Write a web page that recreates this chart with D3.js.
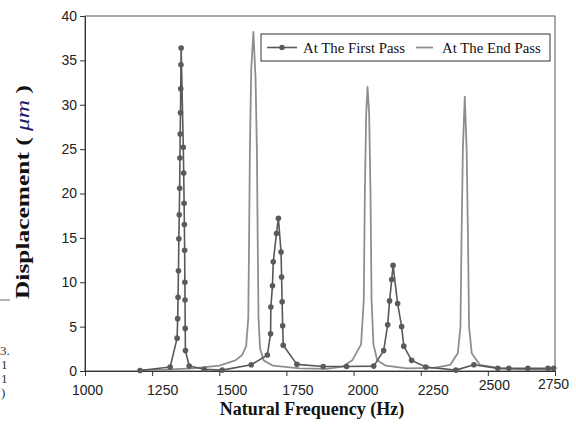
<!DOCTYPE html>
<html>
<head>
<meta charset="utf-8">
<script src="https://cdn.jsdelivr.net/npm/d3@7"></script>
<style>
  html, body { margin: 0; padding: 0; background: #fff; }
  svg { display: block; }
</style>
</head>
<body>
<svg id="chart" width="576" height="427"></svg>
<script>
// ---- data ----
const xTicks = [1000, 1250, 1500, 1750, 2000, 2250, 2500, 2750];
const yTicks = [0, 5, 10, 15, 20, 25, 30, 35, 40];
const seriesNames = ["At The First Pass", "At The End Pass"];

const firstPassFreq = [1205, 1317, 1343, 1345, 1346.5, 1348, 1349.5, 1351, 1352.5, 1353.5, 1354.5, 1355.5, 1356.5, 1357.3, 1358,
  1366, 1367.5, 1369, 1370, 1371, 1371.8, 1372.5, 1373.2, 1374, 1388, 1444, 1511,
  1619, 1679, 1691, 1692, 1698, 1701, 1713, 1720, 1730, 1732, 1734, 1736, 1738, 1789, 1887, 1974,
  2075, 2112, 2127, 2134, 2142, 2147, 2164, 2179, 2187, 2216, 2269, 2381, 2448, 2537, 2578, 2649, 2724, 2745];
const firstPassDisp = [0.05, 0.45, 3.7, 5.9, 8.3, 11.3, 14.9, 17.6, 20.6, 24.0, 26.7, 29.1, 31.8, 34.5, 36.4,
  25.2, 22.3, 18.9, 16.5, 13.6, 10.0, 8.0, 4.8, 2.3, 0.56, 0.2, 0.1,
  0.7, 1.8, 4.2, 7.2, 9.6, 12.3, 15.5, 17.2, 13.4, 10.6, 7.8, 5.1, 2.9, 0.75, 0.5, 0.5,
  0.55, 2.3, 5.2, 7.9, 10.3, 11.9, 7.6, 5.0, 2.8, 1.2, 0.45, 0.1, 0.7, 0.3, 0.3, 0.3, 0.3, 0.3];

const endPassFreq = [1200, 1300, 1400, 1500, 1560, 1585, 1600, 1608, 1611, 1614, 1619, 1627, 1635, 1640, 1643, 1646, 1652, 1665,
  1700, 1800, 1900, 1960, 1995, 2028, 2038, 2042, 2047, 2052, 2058, 2063, 2067, 2074, 2088,
  2120, 2200, 2300, 2360, 2388, 2398, 2402, 2407, 2414, 2421, 2426, 2430, 2440, 2470, 2550, 2650, 2750];
const endPassDisp = [0.1, 0.15, 0.3, 0.6, 1.2, 1.8, 2.8, 6, 15, 25, 34, 38.2, 33, 25, 15, 6, 2.5, 1.2,
  0.6, 0.3, 0.25, 0.5, 1.2, 3, 8, 20, 29, 32, 29, 20, 8, 3, 1.2,
  0.6, 0.3, 0.35, 0.7, 2, 5, 15, 25, 30.9, 25, 15, 5, 2, 0.7, 0.3, 0.15, 0.1];

// ---- layout ----
const svg = d3.select("#chart");
const margin = {left: 85, top: 16, right: 21, bottom: 56};
const W = 576, H = 427;
const x = d3.scaleLinear().domain([1000, 2750]).range([margin.left, W - margin.right]);
const y = d3.scaleLinear().domain([0, 40]).range([H - margin.bottom, margin.top]);

const first = firstPassFreq.map((f, i) => ({f, v: firstPassDisp[i]}));
const end = endPassFreq.map((f, i) => ({f, v: endPassDisp[i]}));

const sans = "'Liberation Sans', Arial, sans-serif";
const serif = "'Liberation Serif', 'Times New Roman', serif";

// frame
svg.append("rect")
  .attr("x", x(1000)).attr("y", y(40))
  .attr("width", x(2750) - x(1000)).attr("height", y(0) - y(40))
  .attr("fill", "none").attr("stroke", "#555").attr("stroke-width", 1);

// axes
const xAxis = svg.append("g")
  .attr("transform", `translate(0,${y(0)})`)
  .call(d3.axisBottom(x).tickValues(xTicks).tickFormat(d3.format("d")).tickSize(5).tickSizeOuter(0));
const yAxis = svg.append("g")
  .attr("transform", `translate(${x(1000)},0)`)
  .call(d3.axisLeft(y).tickValues(yTicks).tickFormat(d3.format("d")).tickSize(5).tickSizeOuter(0));
[xAxis, yAxis].forEach(g => {
  g.select(".domain").attr("stroke", "#333");
  g.selectAll(".tick line").attr("stroke", "#333");
  g.selectAll(".tick text").attr("fill", "#222")
    .style("font-family", sans).style("font-size", "14px");
});
// the scanned original places its frequency labels slightly off the ticks
const labelNudge = {1000: [2, 0], 1250: [10, 0], 1500: [12, 0], 1750: [11, 0], 2000: [9, 0], 2250: [12, 0], 2500: [6, -5], 2750: [-2, -6]};
xAxis.selectAll(".tick text")
  .attr("dy", 0)
  .attr("y", d => 24 + labelNudge[d][1])
  .attr("x", d => labelNudge[d][0]);
yAxis.selectAll(".tick text").attr("x", -8);

// lines
const line = d3.line().x(d => x(d.f)).y(d => y(d.v));
svg.append("path").datum(end)
  .attr("d", line).attr("fill", "none")
  .attr("stroke", "#8e8e8e").attr("stroke-width", 1.8).attr("stroke-linejoin", "round");
svg.append("path").datum(first)
  .attr("d", line).attr("fill", "none")
  .attr("stroke", "#585858").attr("stroke-width", 1.6).attr("stroke-linejoin", "round");
svg.append("g").selectAll("circle").data(first).join("circle")
  .attr("cx", d => x(d.f)).attr("cy", d => y(d.v)).attr("r", 2.8)
  .attr("fill", "#5a5a5a");

// legend
const lg = svg.append("g");
lg.append("rect").attr("x", 261).attr("y", 34).attr("width", 289).attr("height", 27)
  .attr("fill", "#fff").attr("stroke", "#333").attr("stroke-width", 1);
lg.append("line").attr("x1", 267).attr("x2", 297).attr("y1", 47.5).attr("y2", 47.5)
  .attr("stroke", "#585858").attr("stroke-width", 1.6);
lg.append("circle").attr("cx", 282).attr("cy", 47.5).attr("r", 2.8).attr("fill", "#5a5a5a");
lg.append("text").attr("x", 303).attr("y", 52.5).text(seriesNames[0])
  .style("font-family", serif).style("font-size", "14.8px").attr("fill", "#111");
lg.append("line").attr("x1", 416).attr("x2", 433).attr("y1", 47.5).attr("y2", 47.5)
  .attr("stroke", "#8e8e8e").attr("stroke-width", 1.8);
lg.append("text").attr("x", 442).attr("y", 52.5).text(seriesNames[1])
  .style("font-family", serif).style("font-size", "14.8px").attr("fill", "#111");

// axis titles
svg.append("text").attr("x", 312).attr("y", 415).attr("text-anchor", "middle")
  .style("font-family", serif).style("font-size", "18px").style("font-weight", "bold")
  .attr("fill", "#111").text("Natural Frequency (Hz)");
const yt = svg.append("text").attr("transform", "translate(29,192) rotate(-90)").attr("text-anchor", "middle")
  .attr("textLength", 214).attr("lengthAdjust", "spacingAndGlyphs")
  .style("font-family", serif).style("font-size", "18px").style("font-weight", "bold")
  .attr("fill", "#111");
yt.append("tspan").text("Displacement (   ");
yt.append("tspan").text("μm").style("font-style", "italic").style("font-weight", "normal").attr("fill", "#1a1a66");
yt.append("tspan").text("  )");

// scan fragments at the left edge of the page
const frag = svg.append("g").style("font-family", serif)
  .style("font-size", "13px").attr("fill", "#333");
svg.append("line").attr("x1", 0).attr("x2", 10).attr("y1", 300).attr("y2", 300).attr("stroke", "#666");
frag.append("text").attr("x", 0).attr("y", 355).text("3.");
frag.append("text").attr("x", 1).attr("y", 369).text("1");
frag.append("text").attr("x", 1).attr("y", 383).text("1");
frag.append("text").attr("x", 1).attr("y", 397).text(")");
</script>
</body>
</html>
